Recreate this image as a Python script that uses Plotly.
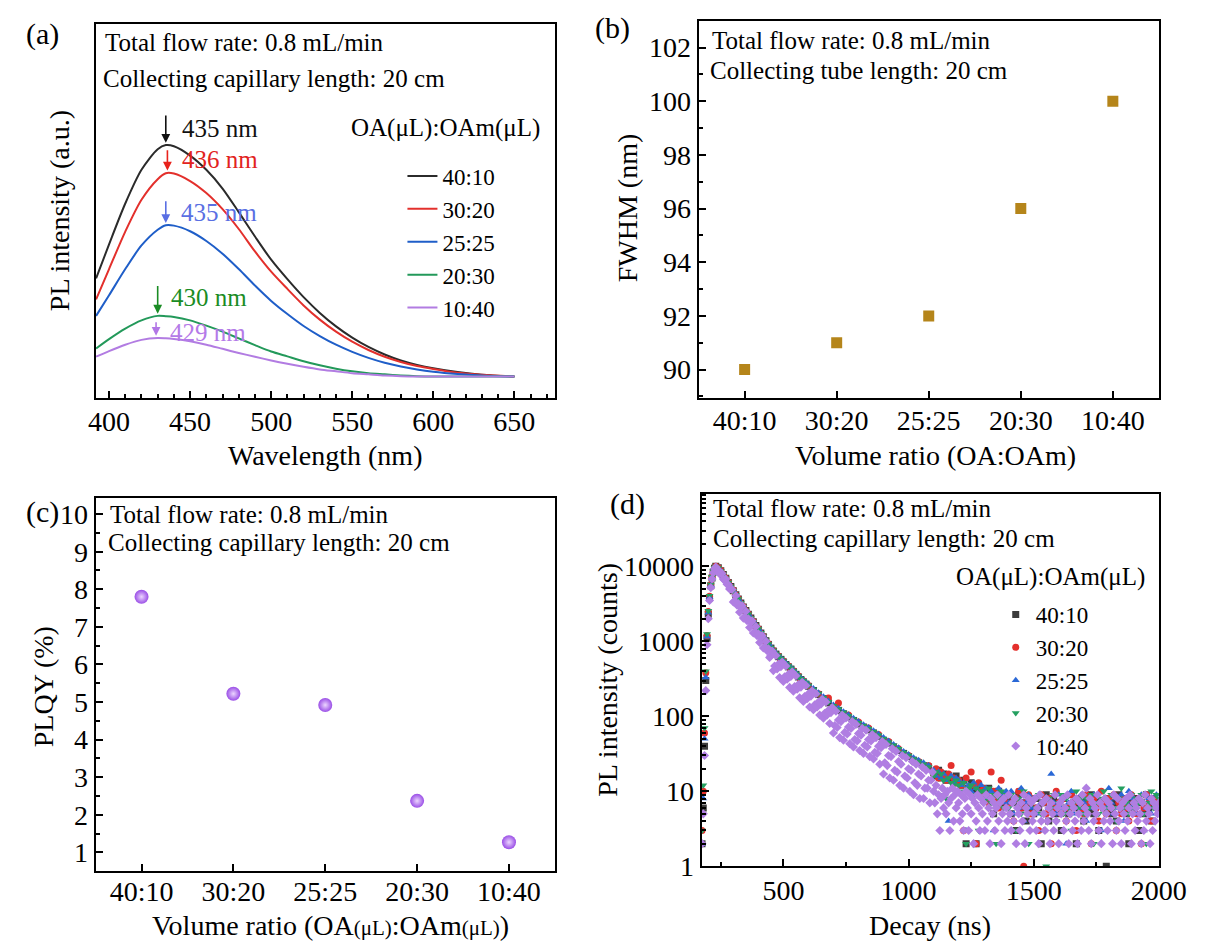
import plotly.graph_objects as go

FONT = "Liberation Serif"
W, H = 1208, 946


def X(p):
    return p / W


def Y(p):
    return 1 - p / H


# ---------------- data ----------------
ratios = ["40:10", "30:20", "25:25", "20:30", "10:40"]

# (a) PL spectra
wavelength = [392, 400, 410, 420, 430, 435, 440, 450, 460, 470, 480, 490, 500,
              510, 520, 530, 540, 550, 560, 570, 580, 590, 600, 615, 630, 650]
pl_4010 = [320, 411, 520, 610, 665, 676, 673, 648, 610, 560, 497, 432, 370,
           318, 270, 228, 192, 162, 137, 117, 101, 89, 80, 70, 63, 58]
pl_3020 = [264, 345, 445, 530, 585, 601, 600, 580, 548, 505, 452, 392, 338,
           292, 248, 210, 178, 151, 129, 111, 97, 86, 78, 68, 63, 58]
pl_2525 = [220, 275, 345, 408, 450, 462, 461, 446, 420, 386, 345, 301, 260,
           225, 193, 166, 143, 124, 108, 95, 85, 77, 71, 65, 61, 58]
pl_2030 = [133, 158, 186, 208, 220, 219, 217, 208, 194, 178, 160, 142, 125,
           112, 99, 88, 79, 72, 67, 64, 61, 59, 58, 58, 58, 58]
pl_1040 = [111, 126, 143, 156, 161, 160, 158, 152, 143, 132, 121, 111, 101,
           92, 84, 77, 72, 67, 64, 61, 59, 58, 58, 58, 58, 58]
peak_nm = [435, 436, 435, 430, 429]
peak_int = [676, 602, 462, 220, 161]

# (b) FWHM
fwhm = [90, 91, 92, 96, 100]

# (c) PLQY
plqy = [7.8, 5.22, 4.92, 2.37, 1.27]

# (d) TRPL decay, channel times (ns)
decay_time = (list(range(175, 230, 5)) + list(range(230, 600, 10))
              + list(range(600, 1100, 20)) + list(range(1100, 2001, 10)))
decay_time_1040 = (list(range(175, 230, 5)) + list(range(230, 1100, 5))
                   + list(range(1100, 2001, 5)))

d4010_rise = [2, 6, 40, 300, 1100, 2300, 3800, 5500, 7000, 8400, 9400]
d4010_fast = [10000, 9550, 8710, 7760, 6920, 6100, 5370, 4730, 4170, 3670,
              3240, 2880, 2570, 2290, 2040, 1820, 1620, 1450, 1290, 1150,
              1020, 910, 813, 741, 676, 624, 575, 531, 490, 457,
              427, 394, 363, 335, 309, 288, 269]
d4010_slow = [251, 221, 195, 172, 151, 133, 120, 108, 98, 88,
              79, 72, 66, 60, 54, 48, 44, 39, 35, 32,
              29, 26, 24, 22, 21]
d4010_tail = [18, 16, 19, 15, 17, 14, 16, 15, 13, 16,
              13, 12, 14, 2, 11, 13, 10, 2, 12, 11,
              10, 9, 11, 8, 5, 9, 10, 7, 9, 8,
              8, 5, 7, 3, 9, 6, 7, 4, 8, 6,
              5, 8, 6, 2, 7, 9, 4, 6, 8, 5,
              7, 3, 8, 6, 5, 9, 7, 2, 6, 8,
              4, 7, 6, 9, 5, 8, 3, 7, 6, 1,
              8, 5, 7, 4, 9, 6, 8, 5, 2, 7,
              6, 8, 3, 7, 5, 9, 6, 4, 8, 7, 6]

d3020_rise = [3, 10, 60, 380, 1200, 2500, 4000, 5700, 7200, 8600, 9500]
d3020_fast = [10000, 9600, 8800, 7700, 6950, 6150, 5300, 4800, 4150, 3700,
              3200, 2900, 2550, 2310, 2020, 1840, 1600, 1470, 1280, 1160,
              1010, 925, 800, 755, 665, 635, 565, 545, 480, 470,
              418, 405, 355, 345, 300, 296, 262]
d3020_slow = [258, 215, 200, 168, 175, 130, 150, 106, 104, 86,
              84, 70, 70, 58, 57, 47, 46, 38, 37, 31,
              30, 25, 25, 21, 22]
d3020_tail = [17, 20, 15, 18, 16, 14, 17, 22, 15, 13,
              14, 12, 3, 15, 11, 18, 12, 2, 13, 10,
              11, 9, 7, 18, 10, 8, 6, 14, 9, 7,
              9, 7, 4, 8, 10, 6, 1, 7, 9, 5,
              8, 6, 3, 9, 7, 5, 8, 2, 6, 10,
              7, 5, 8, 4, 6, 9, 7, 3, 8, 6,
              5, 9, 7, 2, 8, 6, 4, 10, 7, 5,
              8, 6, 9, 3, 7, 5, 8, 6, 4, 9,
              7, 5, 8, 2, 6, 9, 7, 4, 8, 6, 7]

d2525_rise = [2, 8, 50, 330, 1150, 2400, 3900, 5600, 7100, 8500, 9450]
d2525_fast = [9900, 9500, 8650, 7700, 6900, 6080, 5380, 4750, 4190, 3700,
              3270, 2900, 2600, 2320, 2070, 1850, 1650, 1480, 1320, 1180,
              1050, 940, 840, 768, 700, 648, 598, 553, 512, 478,
              447, 413, 381, 352, 325, 303, 284]
d2525_slow = [265, 234, 206, 182, 160, 142, 128, 115, 105, 94,
              85, 77, 71, 64, 58, 52, 47, 42, 38, 34,
              31, 28, 26, 24, 22]
d2525_tail = [19, 16, 18, 15, 17, 14, 4, 16, 13, 15,
              14, 12, 13, 3, 12, 10, 13, 11, 9, 12,
              10, 11, 8, 10, 3, 9, 11, 9, 7, 10,
              7, 10, 5, 8, 6, 11, 4, 7, 9, 6,
              8, 5, 9, 7, 3, 8, 6, 17, 7, 5,
              9, 6, 8, 2, 7, 10, 5, 8, 6, 9,
              7, 4, 8, 6, 9, 5, 7, 3, 8, 6,
              11, 7, 5, 8, 6, 9, 4, 7, 10, 6,
              8, 5, 7, 9, 3, 6, 8, 5, 7, 9, 6]

d2030_rise = [3, 12, 70, 400, 1250, 2550, 4050, 5750, 7250, 8650, 9550]
d2030_fast = [9950, 9520, 8700, 7760, 6930, 6110, 5390, 4740, 4180, 3680,
              3250, 2890, 2580, 2300, 2050, 1830, 1630, 1460, 1300, 1160,
              1030, 920, 825, 752, 690, 637, 588, 543, 500, 467,
              436, 402, 372, 343, 317, 295, 276]
d2030_slow = [258, 228, 201, 177, 156, 138, 124, 112, 101, 91,
              82, 75, 68, 62, 56, 50, 45, 41, 37, 33,
              30, 27, 25, 23, 21]
d2030_tail = [16, 18, 9, 17, 14, 8, 15, 13, 12, 14,
              12, 10, 13, 2, 11, 12, 9, 11, 3, 10,
              10, 8, 11, 7, 9, 2, 8, 10, 6, 9,
              6, 9, 7, 3, 8, 5, 10, 6, 2, 7,
              8, 6, 9, 5, 7, 1, 8, 6, 9, 4,
              7, 9, 5, 8, 6, 3, 7, 10, 6, 8,
              5, 8, 6, 9, 2, 7, 5, 8, 10, 6,
              7, 9, 6, 4, 8, 11, 6, 7, 5, 9,
              6, 8, 7, 9, 5, 2, 7, 10, 6, 9, 8]

# 10:40 is sampled more densely (it sits on top of the others)
d1040_rise = [2, 5, 30, 220, 900, 2000, 3500, 5200, 6800, 8200, 9300]
d1040_decay = [9770, 8710, 8910, 7940, 8130, 8040, 6760, 6530, 6760, 5780, 5690, 4980, 5010, 4920,
               3350, 3440, 4070, 3030, 3200, 2440, 2820, 2990, 2040, 2110,
               2510, 1880, 2000, 1530, 1780, 1880, 1290, 1330, 1580, 1190,
               1260, 966, 1120, 1190, 813, 841, 1000, 750, 794, 610,
               646, 741, 407, 468, 646, 429, 495, 329, 457, 528,
               292, 337, 468, 313, 363, 243, 339, 391, 216, 250,
               347, 230, 266, 177, 245, 285, 158, 184, 257, 172,
               200, 133, 186, 218, 122, 142, 200, 133, 155, 104,
               145, 169, 94, 110, 155, 104, 120, 80, 112, 131,
               60, 75, 117, 71, 89, 52, 85, 104, 48, 61,
               95, 58, 72, 43, 69, 85, 39, 49, 78, 47,
               59, 35, 56, 69, 32, 41, 65, 39, 49, 29,
               47, 57, 27, 33, 52, 32, 40, 23, 38, 46,
               17, 24, 42, 22, 30, 15, 29, 37, 14, 19,
               34, 18, 25, 12, 23, 30, 11, 16, 28, 15,
               20, 10, 19, 25, 9, 13, 23, 12, 17, 8,
               16, 21, 8, 11, 19, 11, 14, 7, 14, 18]
d1040_tail = [10, 7, 12, 5, 9, 3, 8, 11, 6, 9,
              5, 10, 7, 3, 8, 11, 4, 9, 6, 10,
              7, 4, 9, 5, 3, 8, 10, 6, 3, 9,
              5, 8, 2, 7, 4, 9, 6, 3, 8, 5,
              7, 3, 9, 4, 6, 2, 8, 5, 7, 3,
              6, 9, 4, 7, 2, 5, 8, 3, 6, 4,
              9, 5, 3, 7, 4, 8, 2, 6, 5, 3,
              7, 4, 9, 2, 6, 5, 8, 3, 7, 4,
              5, 8, 3, 6, 2, 9, 4, 7, 5, 3,
              8, 4, 6, 2, 7, 5, 3, 9, 4, 6,
              2, 7, 5, 8, 3, 6, 4, 9, 2, 5,
              7, 3, 6, 4, 8, 2, 5, 7, 3, 9,
              4, 6, 11, 5, 3, 8, 2, 7, 4, 6,
              5, 9, 3, 7, 2, 6, 4, 8, 5, 3,
              7, 4, 6, 2, 9, 5, 3, 8, 4, 6,
              2, 7, 5, 3, 8, 4, 6, 9, 2, 5,
              7, 3, 6, 4, 8, 5, 2, 7, 3, 9,
              4, 6, 5, 2, 8, 3, 7, 4, 6, 5, 7]

decay_4010 = d4010_rise + d4010_fast + d4010_slow + d4010_tail
decay_3020 = d3020_rise + d3020_fast + d3020_slow + d3020_tail
decay_2525 = d2525_rise + d2525_fast + d2525_slow + d2525_tail
decay_2030 = d2030_rise + d2030_fast + d2030_slow + d2030_tail
decay_1040 = d1040_rise + d1040_decay + d1040_tail

# ---------------- styles ----------------
line_colors = ["#2b2b2b", "#e3302c", "#1f5ec8", "#23995a", "#b27ce2"]
arrow_colors = ["#111111", "#e8221c", "#5a6fe3", "#1a8c24", "#b277e6"]
label_colors = ["#111111", "#e2231d", "#5a6fe3", "#1a8c24", "#b47ae8"]
dec_colors = ["#3c3c3c", "#e4302c", "#2a68d6", "#24a060", "#b07ee2"]
dec_symbols = ["square", "circle", "triangle-up", "triangle-down", "diamond"]

pl_series = [pl_4010, pl_3020, pl_2525, pl_2030, pl_1040]
dec_series = [decay_4010, decay_3020, decay_2525, decay_2030, decay_1040]
dec_times = [decay_time, decay_time, decay_time, decay_time, decay_time_1040]

fig = go.Figure()

for name, ys, c in zip(ratios, pl_series, line_colors):
    fig.add_trace(go.Scatter(x=wavelength, y=ys, mode="lines", name=name,
                             line=dict(color=c, width=2, shape="spline", smoothing=0.8),
                             xaxis="x", yaxis="y", legend="legend"))

fig.add_trace(go.Scatter(x=ratios, y=fwhm, mode="markers", showlegend=False,
                         marker=dict(symbol="square", size=11, color="#b5851a"),
                         xaxis="x2", yaxis="y2"))

fig.add_trace(go.Scatter(x=ratios, y=plqy, mode="markers", showlegend=False,
                         marker=dict(symbol="circle", size=14, color="#9a4ee6",
                                     gradient=dict(type="radial", color="#ecd6ff")),
                         xaxis="x3", yaxis="y3"))

for name, ts, ys, c, s in zip(ratios, dec_times, dec_series, dec_colors, dec_symbols):
    fig.add_trace(go.Scatter(x=ts, y=ys, mode="markers", name=name,
                             marker=dict(symbol=s, size=7, color=c, line=dict(width=0)),
                             xaxis="x4", yaxis="y4", legend="legend2"))

tickfont = dict(family=FONT, size=28, color="black")
base = dict(showline=True, linecolor="black", linewidth=2, mirror=True,
            ticks="inside", tickcolor="black", tickwidth=2, ticklen=7,
            tickfont=tickfont, showgrid=False, zeroline=False)
minor = dict(ticks="inside", ticklen=4, tickwidth=1.5, tickcolor="black", showgrid=False)

dom_x_a = [X(83), X(556)]
dom_x_b = [X(704), X(1178)]
dom_x_d = [X(707), X(1178)]
dom_y_a = [Y(397), Y(16)]
dom_y_b = [Y(397), Y(13)]
dom_y_c = [Y(878), Y(498)]
dom_y_d = [Y(873), Y(494)]

LEG_FONT = 23
fig.update_layout(
    width=W, height=H, autosize=False,
    margin=dict(l=0, r=0, t=0, b=0),
    paper_bgcolor="white", plot_bgcolor="white",
    font=dict(family=FONT, color="black"),
    xaxis=dict(base, domain=dom_x_a, range=[391.7, 675], tick0=400, dtick=50,
               minor=dict(minor, tick0=400, dtick=10), anchor="y", ticklabelstandoff=-3),
    yaxis=dict(base, domain=dom_y_a, range=[0, 1000], showticklabels=False,
               ticks="", anchor="x"),
    xaxis2=dict(base, domain=dom_x_b, type="category", range=[-0.5, 4.5], anchor="y2",
                ticklabelstandoff=-4),
    yaxis2=dict(base, domain=dom_y_b, range=[88.93, 103], tick0=90, dtick=2,
                minor=dict(minor, tick0=90, dtick=1), anchor="x2"),
    xaxis5=dict(overlaying="x2", anchor="y2", range=[-0.5, 4.5], showline=False,
                tickvals=[0.5, 1.5, 2.5, 3.5], ticks="inside", ticklen=4, tickwidth=1.5,
                tickcolor="black", showticklabels=False, showgrid=False, zeroline=False),
    xaxis3=dict(base, domain=dom_x_a, type="category", range=[-0.5, 4.5], anchor="y3",
                ticklabelstandoff=-6),
    yaxis3=dict(base, domain=dom_y_c, range=[0.5, 10.44], tick0=1, dtick=1,
                minor=dict(minor, tick0=0.5, dtick=0.5), anchor="x3"),
    xaxis6=dict(overlaying="x3", anchor="y3", range=[-0.5, 4.5], showline=False,
                tickvals=[0.5, 1.5, 2.5, 3.5], ticks="inside", ticklen=4, tickwidth=1.5,
                tickcolor="black", showticklabels=False, showgrid=False, zeroline=False),
    xaxis4=dict(base, domain=dom_x_d, range=[173, 2000], tick0=500, dtick=500,
                minor=dict(minor, tick0=250, dtick=250), anchor="y4", ticklabelstandoff=-2),
    yaxis4=dict(base, domain=dom_y_d, type="log", range=[0, 4.97],
                tickvals=[1, 10, 100, 1000, 10000],
                ticktext=["1", "10", "100", "1000", "10000"],
                minor=dict(minor, dtick="D1"), anchor="x4"),
    legend=dict(x=X(399), y=Y(149), xanchor="left", yanchor="top",
                bgcolor="rgba(0,0,0,0)", font=dict(family=FONT, size=LEG_FONT, color="black"),
                itemwidth=30, tracegroupgap=0),
    legend2=dict(x=X(1010), y=Y(595), xanchor="left", yanchor="top",
                 bgcolor="rgba(0,0,0,0)", font=dict(family=FONT, size=LEG_FONT, color="black"),
                 itemwidth=30, tracegroupgap=0),
)

anns = []


def txt(x, y, s, size=25, color="black", xanchor="left", angle=0):
    anns.append(dict(x=X(x), y=Y(y), xref="paper", yref="paper", text=s,
                     showarrow=False, xanchor=xanchor, yanchor="middle",
                     textangle=angle,
                     font=dict(family=FONT, size=size, color=color)))


# panel labels
txt(28.7, 26.7, "(a)", 30, xanchor="center")
txt(615.5, 20, "(b)", 30, xanchor="center")
txt(28.7, 513, "(c)", 30, xanchor="center")
txt(631, 505, "(d)", 30, xanchor="center")

# condition notes
txt(90.7, 35, "Total flow rate: 0.8 mL/min")
txt(89, 71.7, "Collecting capillary length: 20 cm")
txt(715.5, 33.3, "Total flow rate: 0.8 mL/min")
txt(713.6, 63.3, "Collecting tube length: 20 cm")
txt(95.7, 515, "Total flow rate: 0.8 mL/min")
txt(93.8, 543.3, "Collecting capillary length: 20 cm")
txt(716.3, 509.3, "Total flow rate: 0.8 mL/min")
txt(716.3, 540, "Collecting capillary length: 20 cm")

# legend titles
txt(443, 121.7, "OA(μL):OAm(μL)", 25, xanchor="center")
txt(1066, 578.3, "OA(μL):OAm(μL)", 25, xanchor="center")

# axis titles
txt(319.5, 455, "Wavelength (nm)", 28, xanchor="center")
txt(46, 206, "PL intensity (a.u.)", 28, xanchor="center", angle=-90)
txt(948, 455, "Volume ratio (OA:OAm)", 28, xanchor="center")
txt(631, 203, "FWHM (nm)", 28, xanchor="center", angle=-90)
small = "<span style='font-size:21px'>(μL)</span>"
txt(325, 933, "Volume ratio (OA" + small + ":OAm" + small + ")", 28, xanchor="center")
txt(28.7, 690, "PLQY (%)", 28, xanchor="center", angle=-90)
txt(942, 933, "Decay (ns)", 28, xanchor="center")
txt(610, 683, "PL intensity (counts)", 28, xanchor="center", angle=-90)

# peak arrows + labels in (a)
label_off = [(8.6, 43), (8.0, 36), (8.0, 33), (7.1, 48), (7.5, 15)]
tail_len = [77, 58, 62, 78, 40]
for i in range(5):
    xp, yp = peak_nm[i], peak_int[i]
    anns.append(dict(x=xp, y=yp + 6, xref="x", yref="y",
                     ax=xp, ay=yp + 6 + tail_len[i], axref="x", ayref="y",
                     text="", showarrow=True, arrowhead=2, arrowsize=1.1,
                     arrowwidth=1.6, arrowcolor=arrow_colors[i]))
    dx, dy = label_off[i]
    anns.append(dict(x=xp + dx, y=yp + dy, xref="x", yref="y",
                     text=f"{xp} nm", showarrow=False, xanchor="left", yanchor="middle",
                     font=dict(family=FONT, size=25, color=label_colors[i])))

fig.update_layout(annotations=anns)

fig.write_html("out.html")
